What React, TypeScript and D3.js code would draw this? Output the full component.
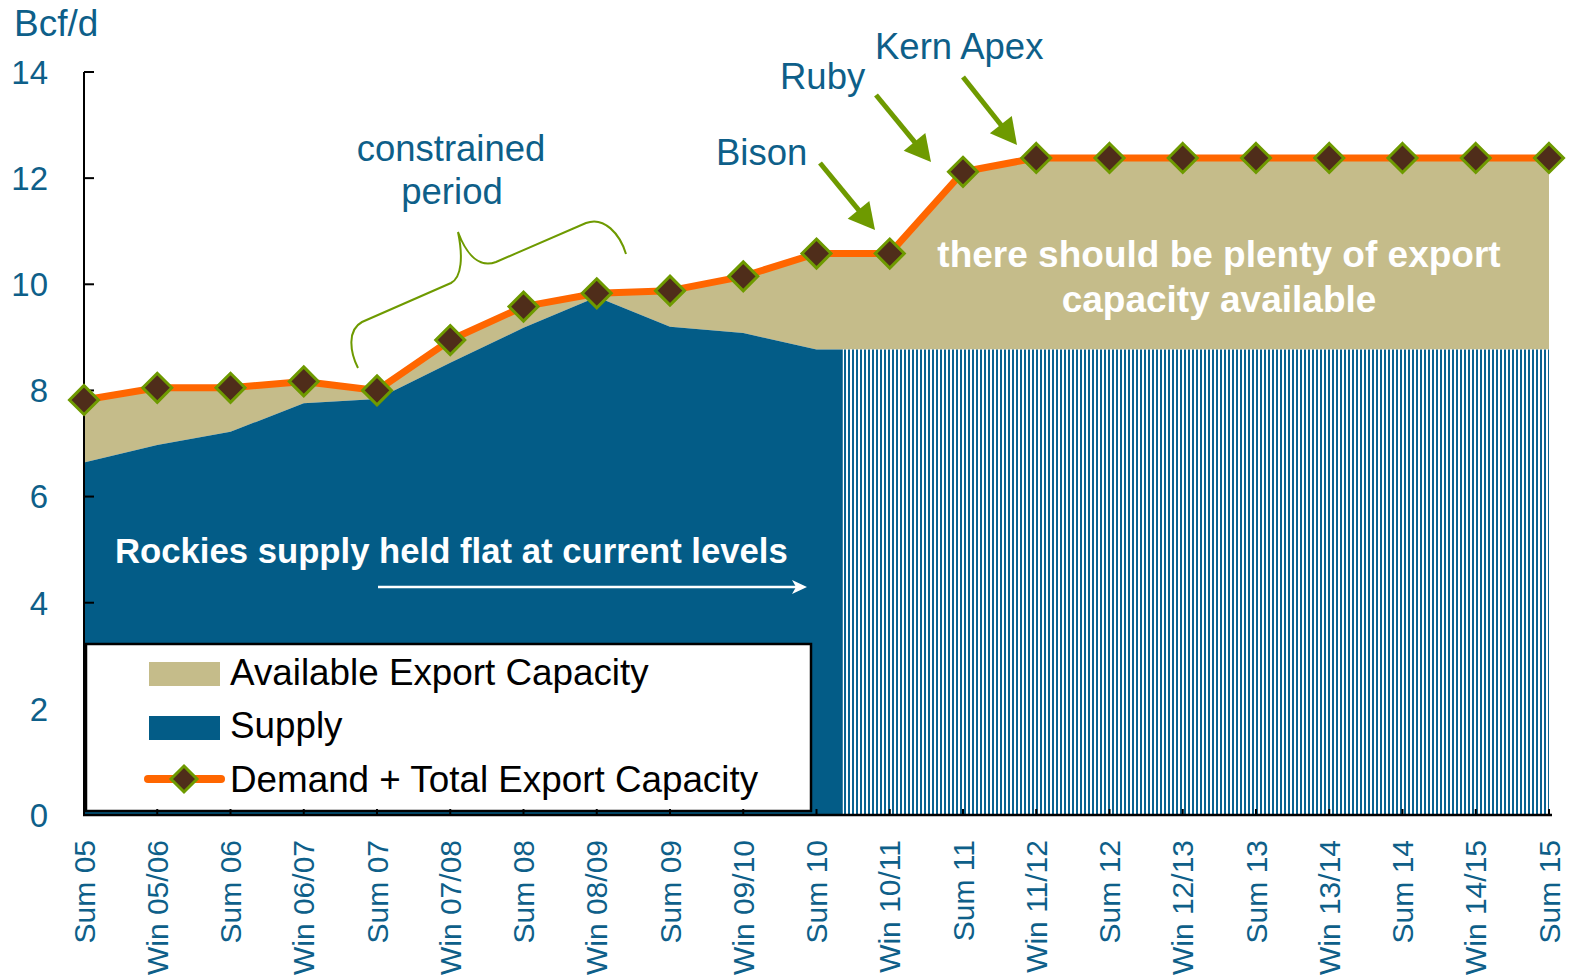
import React from 'react';
import * as d3 from 'd3';

const categories = [
  'Sum 05', 'Win 05/06', 'Sum 06', 'Win 06/07', 'Sum 07', 'Win 07/08', 'Sum 08',
  'Win 08/09', 'Sum 09', 'Win 09/10', 'Sum 10', 'Win 10/11', 'Sum 11', 'Win 11/12',
  'Sum 12', 'Win 12/13', 'Sum 13', 'Win 13/14', 'Sum 14', 'Win 14/15', 'Sum 15',
];

// Demand + Total Export Capacity (Bcf/d)
const demandCapacity = [
  7.82, 8.05, 8.05, 8.17, 8.0, 8.95, 9.58, 9.83, 9.88, 10.15, 10.58,
  10.58, 12.12, 12.38, 12.38, 12.38, 12.38, 12.38, 12.38, 12.38, 12.38,
];

// Rockies supply (Bcf/d) - held flat after Sum 10
const supply = [
  6.64, 6.97, 7.22, 7.76, 7.84, 8.52, 9.18, 9.76, 9.2, 9.08, 8.77,
  8.77, 8.77, 8.77, 8.77, 8.77, 8.77, 8.77, 8.77, 8.77, 8.77,
];

const yTicks = [0, 2, 4, 6, 8, 10, 12, 14];

// category position where the "held flat" (striped) supply starts
const forecastFrom = 10.36;

const legendItems = ['Available Export Capacity', 'Supply', 'Demand + Total Export Capacity'];

const C = {
  blue: '#035C87',
  stripe: '#0A6391',
  text: '#0E5F89',
  beige: '#C5BC8A',
  orange: '#FF6600',
  markerFill: '#4F2D1A',
  green: '#6E9A00',
};

const FONT = '"Liberation Sans", Arial, Helvetica, sans-serif';

function GreenArrow({ x1, y1, x2, y2 }: { x1: number; y1: number; x2: number; y2: number }) {
  const dx = x2 - x1;
  const dy = y2 - y1;
  const len = Math.sqrt(dx * dx + dy * dy);
  const ux = dx / len;
  const uy = dy / len;
  const headLen = 26;
  const headHalf = 14;
  const bx = x2 - ux * headLen;
  const by = y2 - uy * headLen;
  const px = -uy;
  const py = ux;
  const pts = [
    [x2, y2],
    [bx + px * headHalf, by + py * headHalf],
    [bx - px * headHalf, by - py * headHalf],
  ]
    .map((p) => p.join(','))
    .join(' ');
  return (
    <g>
      <line x1={x1} y1={y1} x2={bx + ux * 2} y2={by + uy * 2} stroke={C.green} strokeWidth={5} />
      <polygon points={pts} fill={C.green} />
    </g>
  );
}

export default function App() {
  const n = categories.length;
  const x = d3.scaleLinear().domain([0, n - 1]).range([84, 1549]);
  const y = d3.scaleLinear().domain([0, 14]).range([815, 72]);
  const idx = d3.range(n);

  const supplyArea = d3
    .area<number>()
    .x((i) => x(i))
    .y0(y(0))
    .y1((i) => y(supply[i]));

  const capArea = d3
    .area<number>()
    .x((i) => x(i))
    .y0((i) => y(supply[i]))
    .y1((i) => y(demandCapacity[i]));

  const demandLine = d3
    .line<number>()
    .x((i) => x(i))
    .y((i) => y(demandCapacity[i]));

  const diamond = (cx: number, cy: number, r: number) =>
    `M${cx},${cy - r}L${cx + r},${cy}L${cx},${cy + r}L${cx - r},${cy}Z`;

  const splitX = x(forecastFrom);

  return (
    <svg
      width={1571}
      height={978}
      style={{ position: 'absolute', left: 0, top: 0, background: '#fff' }}
      fontFamily={FONT}
    >
      <defs>
        <pattern id="stripes" width={4} height={10} patternUnits="userSpaceOnUse">
          <rect width={4} height={10} fill="#ffffff" />
          <rect width={2} height={10} fill={C.stripe} />
        </pattern>
        <clipPath id="solidClip">
          <rect x={0} y={0} width={splitX} height={978} />
        </clipPath>
        <clipPath id="stripeClip">
          <rect x={splitX} y={0} width={1571 - splitX} height={978} />
        </clipPath>
      </defs>

      {/* Available export capacity */}
      <path d={capArea(idx) || ''} fill={C.beige} />
      {/* Supply */}
      <path d={supplyArea(idx) || ''} fill={C.blue} clipPath="url(#solidClip)" />
      <path d={supplyArea(idx) || ''} fill="url(#stripes)" clipPath="url(#stripeClip)" />

      {/* Y axis */}
      <line x1={x(0)} x2={x(0)} y1={y(14)} y2={y(0)} stroke="#000" strokeWidth={2} />
      {yTicks.map((t) => (
        <g key={t}>
          <line x1={x(0)} x2={x(0) + 10} y1={y(t)} y2={y(t)} stroke="#000" strokeWidth={2} />
          <text x={48} y={y(t)} dy="0.36em" textAnchor="end" fontSize={33} fill={C.text}>
            {t}
          </text>
        </g>
      ))}
      <text x={14} y={36} fontSize={37} fill={C.text}>
        Bcf/d
      </text>

      {/* Demand + total export capacity */}
      <path d={demandLine(idx) || ''} fill="none" stroke={C.orange} strokeWidth={7} strokeLinejoin="round" />
      {idx.map((i) => (
        <path
          key={i}
          d={diamond(x(i), y(demandCapacity[i]), 14.5)}
          fill={C.markerFill}
          stroke={C.green}
          strokeWidth={3}
        />
      ))}

      {/* Legend */}
      <rect x={86} y={644} width={725} height={167} fill="#fff" stroke="#000" strokeWidth={2.5} />
      <rect x={149} y={662} width={71} height={24} fill={C.beige} />
      <rect x={149} y={716} width={71} height={24} fill={C.blue} />
      <line x1={148} x2={221} y1={779} y2={779} stroke={C.orange} strokeWidth={8} strokeLinecap="round" />
      <path d={diamond(184, 779, 13)} fill={C.markerFill} stroke={C.green} strokeWidth={3} />
      {legendItems.map((t, i) => (
        <text key={t} x={230} y={685 + i * 53.3} fontSize={36.8} fill="#000">
          {t}
        </text>
      ))}

      {/* X axis */}
      <line x1={x(0) - 1} x2={x(n - 1) + 3} y1={y(0)} y2={y(0)} stroke="#000" strokeWidth={2.5} />
      {idx.map((i) => (
        <g key={i}>
          <line x1={x(i)} x2={x(i)} y1={y(0)} y2={y(0) - 6} stroke="#000" strokeWidth={2} />
          <g transform={`translate(${x(i)},840) rotate(-90)`}>
            <text textAnchor="end" dy="0.35em" fontSize={30} fill={C.text}>
              {categories[i]}
            </text>
          </g>
        </g>
      ))}

      {/* Annotations */}
      <text x={451} y={161} textAnchor="middle" fontSize={36.5} fill={C.text}>
        constrained
      </text>
      <text x={452} y={204} textAnchor="middle" fontSize={36.5} fill={C.text}>
        period
      </text>
      <path
        d="M358,368 C350,352 347,330 362,322 L451,283 C462,277 463,256 458,232 C467,256 480,268 496,262 L586,223 C604,216 620,234 626,254"
        fill="none"
        stroke={C.green}
        strokeWidth={2}
      />

      <text x={716} y={165} fontSize={36.5} fill={C.text}>
        Bison
      </text>
      <text x={780} y={89} fontSize={36.5} fill={C.text}>
        Ruby
      </text>
      <text x={875} y={59} fontSize={36.5} fill={C.text}>
        Kern Apex
      </text>
      <GreenArrow x1={820} y1={163} x2={875} y2={230} />
      <GreenArrow x1={876} y1={95} x2={931} y2={162} />
      <GreenArrow x1={963} y1={77} x2={1017} y2={145} />

      <text x={1219} y={267} textAnchor="middle" fontSize={37} fontWeight="bold" fill="#fff">
        there should be plenty of export
      </text>
      <text x={1219} y={312} textAnchor="middle" fontSize={37} fontWeight="bold" fill="#fff">
        capacity available
      </text>

      <text x={115} y={563} fontSize={34.7} fontWeight="bold" fill="#fff">
        Rockies supply held flat at current levels
      </text>
      <line x1={378} x2={796} y1={587} y2={587} stroke="#fff" strokeWidth={2.5} />
      <polygon points="807,587 792,580 796,587 792,594" fill="#fff" />
    </svg>
  );
}
